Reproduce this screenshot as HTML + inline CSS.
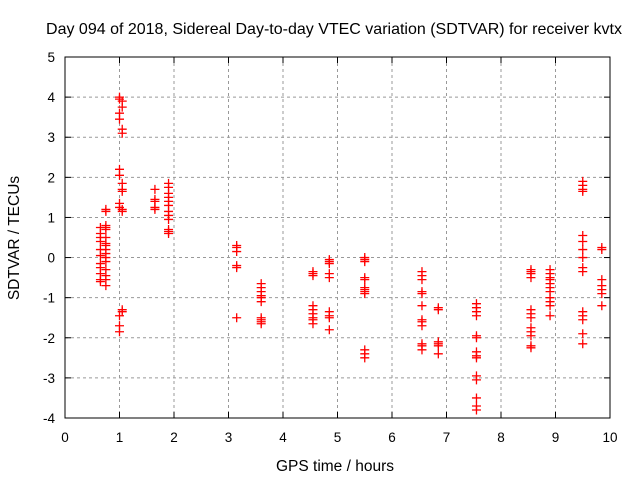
<!DOCTYPE html>
<html><head><meta charset="utf-8"><style>
body{margin:0;background:#fff}
svg{display:block;font-family:"Liberation Sans",sans-serif}
</style></head><body>
<svg id="c" width="640" height="480">
<text x="334" y="34" font-size="16" text-anchor="middle">Day 094 of 2018, Sidereal Day-to-day VTEC variation (SDTVAR) for receiver kvtx</text>
<text x="335" y="471" font-size="15.5" text-anchor="middle">GPS time / hours</text>
<text transform="translate(19,238) rotate(-90)" font-size="15.5" text-anchor="middle">SDTVAR / TECUs</text>
<g id="grid"></g><g id="ticks"></g><g id="pts"></g>
<rect x="65" y="57" width="545" height="361" fill="none" stroke="#000"/>
</svg>
<script>
const xTicks=[0,1,2,3,4,5,6,7,8,9,10];
const yTicks=[-4,-3,-2,-1,0,1,2,3,4,5];
const clusterTimes=[0.65,0.75,1.0,1.05,1.65,1.9,3.15,3.6,4.55,4.85,5.5,6.55,6.85,7.55,8.55,8.9,9.5,9.85];
const clusterValues=[
[0.75,0.6,0.5,0.4,0.2,0.05,-0.15,-0.25,-0.4,-0.55,-0.6],
[1.2,1.15,0.8,0.75,0.7,0.5,0.35,0.3,0.2,0.1,0,-0.1,-0.3,-0.45,-0.55,-0.7],
[4.0,3.95,3.6,3.45,2.2,2.05,1.35,1.25,-1.45,-1.7,-1.85],
[3.9,3.75,3.2,3.1,1.85,1.7,1.65,1.2,1.15,-1.3,-1.35],
[1.7,1.45,1.4,1.25,1.2],
[1.85,1.75,1.6,1.5,1.4,1.3,1.15,1.05,0.95,0.7,0.65,0.6],
[0.3,0.25,0.15,-0.2,-0.25,-1.5],
[-0.65,-0.75,-0.85,-0.95,-1.0,-1.1,-1.5,-1.55,-1.6,-1.65],
[-0.35,-0.4,-0.45,-1.2,-1.3,-1.4,-1.5,-1.55,-1.65],
[-0.05,-0.1,-0.15,-0.4,-0.5,-1.35,-1.45,-1.5,-1.8],
[0,-0.05,-0.1,-0.5,-0.55,-0.75,-0.8,-0.85,-0.9,-2.3,-2.4,-2.5],
[-0.35,-0.45,-0.55,-0.85,-0.9,-1.2,-1.55,-1.6,-1.7,-2.15,-2.2,-2.3],
[-1.25,-1.3,-2.1,-2.15,-2.2,-2.4],
[-1.15,-1.25,-1.35,-1.45,-1.95,-2.0,-2.35,-2.45,-2.5,-2.95,-3.05,-3.5,-3.7,-3.8],
[-0.3,-0.35,-0.4,-0.5,-1.3,-1.4,-1.5,-1.75,-1.85,-1.95,-2.2,-2.25],
[-0.3,-0.4,-0.5,-0.55,-0.65,-0.75,-0.85,-1.0,-1.1,-1.2,-1.45],
[1.9,1.8,1.7,1.65,0.55,0.4,0.2,0,-0.25,-0.35,-1.35,-1.45,-1.55,-1.9,-2.15],
[0.25,0.2,-0.55,-0.7,-0.8,-0.9,-1.2]
];
const NS="http://www.w3.org/2000/svg";
const X=v=>65+v*54.5, Y=v=>418-(v+4)*40.11;
function mk(t,a,p){const e=document.createElementNS(NS,t);for(const k in a)e.setAttribute(k,a[k]);p.appendChild(e);return e;}
const g=document.getElementById('grid'),tk=document.getElementById('ticks'),pts=document.getElementById('pts');
xTicks.forEach(v=>{
 if(v>0&&v<10){const l=mk('line',{x1:X(v),x2:X(v),y1:57,y2:418,stroke:'#999','stroke-dasharray':'3,3'},g);
 
 }
 mk('line',{x1:X(v),x2:X(v),y1:418,y2:412,stroke:'#000'},tk);
 mk('line',{x1:X(v),x2:X(v),y1:57,y2:63,stroke:'#000'},tk);
 const t=mk('text',{x:X(v),y:442,'font-size':13.5,'text-anchor':'middle'},tk);t.textContent=v;
 
 
});
yTicks.forEach(v=>{
 if(v>-4&&v<5){const l=mk('line',{x1:65,x2:610,y1:Y(v),y2:Y(v),stroke:'#999','stroke-dasharray':'3,3'},g);
 
 }
 mk('line',{x1:65,x2:71,y1:Y(v),y2:Y(v),stroke:'#000'},tk);
 mk('line',{x1:610,x2:604,y1:Y(v),y2:Y(v),stroke:'#000'},tk);
 const t=mk('text',{x:55,y:Y(v)+5,'font-size':13.5,'text-anchor':'end'},tk);t.textContent=v;
 
 
});
clusterTimes.forEach((tm,i)=>{
 clusterValues[i].forEach(v=>{
  const cx=X(tm),cy=Y(v);
  const p=mk('path',{d:`M${cx-4.5},${cy}H${cx+4.5}M${cx},${cy-4.5}V${cy+4.5}`,stroke:'#f00','stroke-width':1.3,fill:'none'},pts);
  
  
 });
});
</script>
</body></html>
